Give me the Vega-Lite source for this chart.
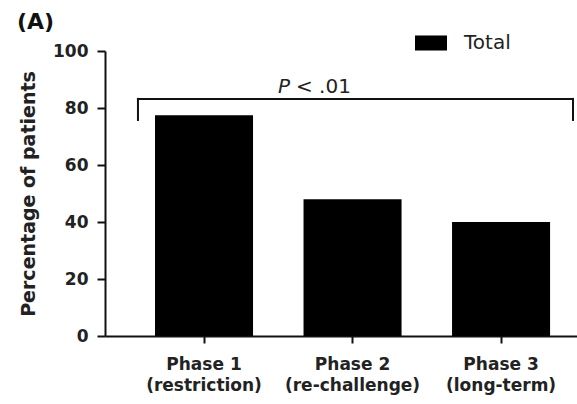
{
  "$schema": "https://vega.github.io/schema/vega-lite/v6.json",
  "width": 472,
  "height": 285,
  "autosize": {"type": "none"},
  "padding": {"left": 105, "top": 51, "right": 0, "bottom": 68},
  "background": "white",
  "title": {"text": "(A)", "anchor": "start", "frame": "group", "orient": "top", "font": "DejaVu Sans", "fontSize": 22, "fontWeight": "bold", "color": "#111", "dx": -88, "dy": 11, "offset": 4},
  "config": {"view": {"stroke": null}, "font": "DejaVu Sans"},
  "datasets": {
    "bars": [
      {"phase": "Phase 1|(restriction)", "pct": 77.5, "group": "Total"},
      {"phase": "Phase 2|(re-challenge)", "pct": 48, "group": "Total"},
      {"phase": "Phase 3|(long-term)", "pct": 40, "group": "Total"}
    ],
    "bracket": [
      {"x1": 0.562, "x2": 3.492, "y1": 83.2, "y2": 83.2},
      {"x1": 0.562, "x2": 0.562, "y1": 83.2, "y2": 75.8},
      {"x1": 3.492, "x2": 3.492, "y1": 83.2, "y2": 75.8}
    ],
    "annot": [{"x": 1.586, "y": 85.3, "p": "P", "rest": "< .01"}]
  },
  "layer": [
    {
      "data": {"name": "bars"},
      "mark": {"type": "bar", "color": "#000"},
      "encoding": {
        "x": {
          "field": "phase", "type": "nominal", "sort": null,
          "scale": {"paddingInner": 0.34, "paddingOuter": 0.259, "align": 0.65},
          "axis": {
            "title": null, "labelExpr": "split(datum.value, '|')", "labelAngle": 0,
            "labelFont": "DejaVu Sans", "labelFontSize": 17, "labelFontWeight": "bold", "labelColor": "#222",
            "labelLineHeight": 21, "labelPadding": 13, "tickSize": 7, "tickWidth": 2, "tickColor": "#111",
            "domainWidth": 2, "domainColor": "#111"
          }
        },
        "y": {
          "field": "pct", "type": "quantitative",
          "scale": {"domain": [0, 100], "nice": false},
          "axis": {
            "title": "Percentage of patients", "values": [0, 20, 40, 60, 80, 100], "grid": false,
            "domainWidth": 2, "domainColor": "#111", "tickWidth": 2, "tickSize": 8, "tickColor": "#111",
            "labelFont": "DejaVu Sans", "labelFontWeight": "bold", "labelFontSize": 17, "labelColor": "#222", "labelPadding": 9,
            "titleFont": "DejaVu Sans", "titleFontWeight": "bold", "titleFontSize": 19, "titleColor": "#222", "titlePadding": 14
          }
        },
        "color": {
          "field": "group", "type": "nominal",
          "scale": {"range": ["#000000"]},
          "legend": {
            "title": null, "orient": "none", "legendX": 310, "legendY": -24,
            "symbolType": "M-1,-0.47H1V0.47H-1Z", "symbolSize": 1024, "symbolStrokeWidth": 0, "symbolOpacity": 1,
            "labelFont": "DejaVu Sans", "labelFontSize": 20, "labelColor": "#222", "labelOffset": 17, "padding": 0
          }
        }
      }
    },
    {
      "data": {"name": "bracket"},
      "mark": {"type": "rule", "color": "#111", "strokeWidth": 2, "strokeCap": "square"},
      "encoding": {
        "x": {"field": "x1", "type": "quantitative", "scale": {"domain": [0.34, 3.519], "nice": false, "zero": false}, "axis": null},
        "x2": {"field": "x2"},
        "y": {"field": "y1", "type": "quantitative"},
        "y2": {"field": "y2"}
      }
    },
    {
      "data": {"name": "annot"},
      "mark": {"type": "text", "font": "DejaVu Sans", "fontSize": 20, "fontStyle": "italic", "color": "#222", "align": "right", "baseline": "alphabetic"},
      "encoding": {
        "x": {"field": "x", "type": "quantitative", "scale": {"domain": [0.34, 3.519], "nice": false, "zero": false}, "axis": null},
        "y": {"field": "y", "type": "quantitative"},
        "text": {"field": "p"}
      }
    },
    {
      "data": {"name": "annot"},
      "mark": {"type": "text", "font": "DejaVu Sans", "fontSize": 20, "color": "#222", "align": "left", "baseline": "alphabetic", "dx": 6},
      "encoding": {
        "x": {"field": "x", "type": "quantitative", "scale": {"domain": [0.34, 3.519], "nice": false, "zero": false}, "axis": null},
        "y": {"field": "y", "type": "quantitative"},
        "text": {"field": "rest"}
      }
    }
  ],
  "resolve": {"scale": {"x": "independent"}}
}
